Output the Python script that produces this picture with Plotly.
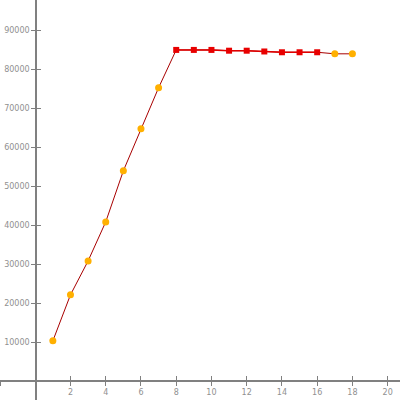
import plotly.graph_objects as go

x_all = [1, 2, 3, 4, 5, 6, 7, 8, 9, 10, 11, 12, 13, 14, 15, 16, 17, 18]
y_all = [10300, 22100, 30800, 40800, 53900, 64700, 75200, 84900, 84900, 84900,
         84700, 84700, 84500, 84300, 84300, 84300, 83900, 83900]
x_sq = [8, 9, 10, 11, 12, 13, 14, 15, 16]
y_sq = [84900, 84900, 84900, 84700, 84700, 84500, 84300, 84300, 84300]
x_circ = [1, 2, 3, 4, 5, 6, 7, 17, 18]
y_circ = [10300, 22100, 30800, 40800, 53900, 64700, 75200, 83900, 83900]

x_ticks = [-2, 0, 2, 4, 6, 8, 10, 12, 14, 16, 18, 20]
x_labels = ["", "", "2", "4", "6", "8", "10", "12", "14", "16", "18", "20"]
y_ticks = [10000, 20000, 30000, 40000, 50000, 60000, 70000, 80000, 90000]
y_labels = ["10000", "20000", "30000", "40000", "50000", "60000", "70000", "80000", "90000"]

XR = [-2.0, 20.7]
YR = [-4870, 97700]
axcol = "#808080"
font = dict(family="DejaVu Sans", size=8, color="#909090")

fig = go.Figure()
fig.add_trace(go.Scatter(x=x_all, y=y_all, mode="lines",
                         line=dict(color="#a80000", width=1), hoverinfo="skip"))
fig.add_trace(go.Scatter(x=x_sq, y=y_sq, mode="lines+markers",
                         line=dict(color="#e00000", width=1.5),
                         marker=dict(symbol="square", size=6, color="#e80000")))
fig.add_trace(go.Scatter(x=x_circ, y=y_circ, mode="markers",
                         marker=dict(symbol="circle", size=7, color="#ffb000",
                                     line=dict(width=0))))
fig.add_trace(go.Scatter(x=[XR[0]], y=[YR[0]], xaxis="x2", yaxis="y2",
                         mode="markers", marker=dict(opacity=0), hoverinfo="skip"))

common = dict(showgrid=False, zeroline=False, showline=True, linecolor=axcol,
              linewidth=1.5, tickcolor=axcol, tickwidth=1, ticklen=4, tickfont=font)
fig.update_layout(
    width=400, height=400, showlegend=False,
    margin=dict(l=0, r=0, t=0, b=0, autoexpand=False),
    plot_bgcolor="white", paper_bgcolor="white",
    xaxis=dict(range=XR, domain=[0, 1], anchor="free", position=19/400,
               tickvals=x_ticks, ticktext=x_labels, ticks="outside", **common),
    yaxis=dict(range=YR, domain=[0, 1], anchor="free", position=36/400,
               tickvals=y_ticks, ticktext=y_labels, ticks="outside", **common),
    xaxis2=dict(range=XR, overlaying="x", anchor="free", position=19/400,
                tickvals=x_ticks, showticklabels=False, ticks="inside", **common),
    yaxis2=dict(range=YR, overlaying="y", anchor="free", position=36/400,
                tickvals=y_ticks, showticklabels=False, ticks="inside", **common),
)
fig.write_html("out.html", config={"displayModeBar": False},
               post_script="document.body.style.margin='0';")
